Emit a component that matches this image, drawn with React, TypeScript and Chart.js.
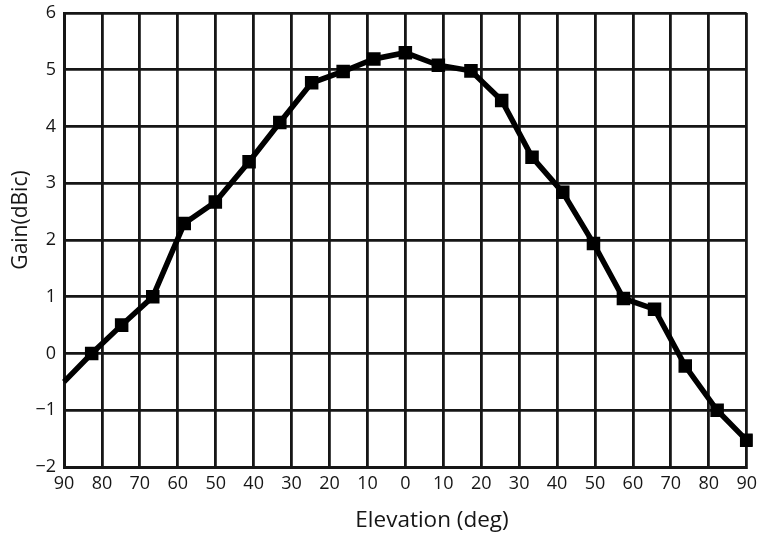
import React, { useEffect, useRef } from "react";
import { Chart, registerables } from "chart.js";

Chart.register(...registerables);

const elevation = [-90, -82.7, -74.8, -66.6, -58.3, -50.1, -41.2, -33.1, -24.7, -16.4, -8.3, 0, 8.7, 17.3, 25.4, 33.4, 41.5, 49.6, 57.5, 65.7, 73.8, 82.2, 90];
const gain = [-0.5, 0, 0.5, 1.0, 2.29, 2.67, 3.38, 4.07, 4.77, 4.97, 5.19, 5.3, 5.08, 4.98, 4.46, 3.46, 2.84, 1.94, 0.97, 0.78, -0.22, -1.0, -1.53];
const markerShown = [false, true, true, true, true, true, true, true, true, true, true, true, true, true, true, true, true, true, true, true, true, true, true];

const xTitle = "Elevation (deg)";
const yTitle = "Gain(dBic)";

const FONT = "'Open Sans', sans-serif";
const INK = "#161616";

const titlePlugin = {
  id: "axisTitles",
  afterDraw(chart: any) {
    const ctx = chart.ctx;
    ctx.save();
    ctx.fillStyle = INK;
    ctx.font = `22.5px ${FONT}`;
    ctx.textAlign = "center";
    ctx.textBaseline = "alphabetic";
    ctx.fillText(xTitle, 432, 527);
    ctx.translate(27, 220);
    ctx.rotate(-Math.PI / 2);
    ctx.font = `21px ${FONT}`;
    ctx.fillText(yTitle, 0, 0);
    ctx.restore();
  },
};

export default function App() {
  const ref = useRef<HTMLCanvasElement>(null);
  useEffect(() => {
    if (!ref.current) return;
    const chart = new Chart(ref.current, {
      type: "line",
      data: {
        datasets: [
          {
            data: elevation.map((x, i) => ({ x, y: gain[i] })),
            borderColor: "#000",
            backgroundColor: "#000",
            borderWidth: 5.5,
            pointStyle: "rect",
            pointRadius: markerShown.map((m) => (m ? 8.5 : 0)),
            pointBorderWidth: 1.5,
            pointBorderColor: "#000",
            pointBackgroundColor: "#000",
            tension: 0,
            clip: 6,
          },
        ],
      },
      options: {
        animation: false,
        responsive: false,
        events: [],
        layout: { padding: { top: 13, right: 13.3, left: 0, bottom: 0 } },
        plugins: { legend: { display: false }, tooltip: { enabled: false } },
        scales: {
          x: {
            type: "linear",
            min: -90,
            max: 90,
            afterFit: (s: any) => {
              s.height = 69;
              s.paddingLeft = 0;
              s.paddingRight = 0;
            },
            grid: { color: INK, lineWidth: 2.8, drawTicks: false },
            border: { color: INK, width: 3 },
            ticks: {
              stepSize: 10,
              padding: 6,
              color: INK,
              font: { family: FONT, size: 18 },
              callback: (v: any) => String(Math.abs(Number(v))),
            },
          },
          y: {
            min: -2,
            max: 6,
            afterFit: (s: any) => {
              s.width = 64;
              s.paddingTop = 0;
              s.paddingBottom = 0;
            },
            grid: { color: INK, lineWidth: 2.8, drawTicks: false },
            border: { color: INK, width: 3 },
            ticks: {
              stepSize: 1,
              padding: 8,
              color: INK,
              font: { family: FONT, size: 18 },
              callback: (v: any) => String(v).replace("-", "\u2212"),
            },
          },
        },
      },
      plugins: [titlePlugin],
    } as any);
    return () => chart.destroy();
  }, []);
  return (
    <div style={{ position: "fixed", left: 0, top: 0, width: 760, height: 536, background: "#fff" }}>
      <canvas ref={ref} width={760} height={536} />
    </div>
  );
}
